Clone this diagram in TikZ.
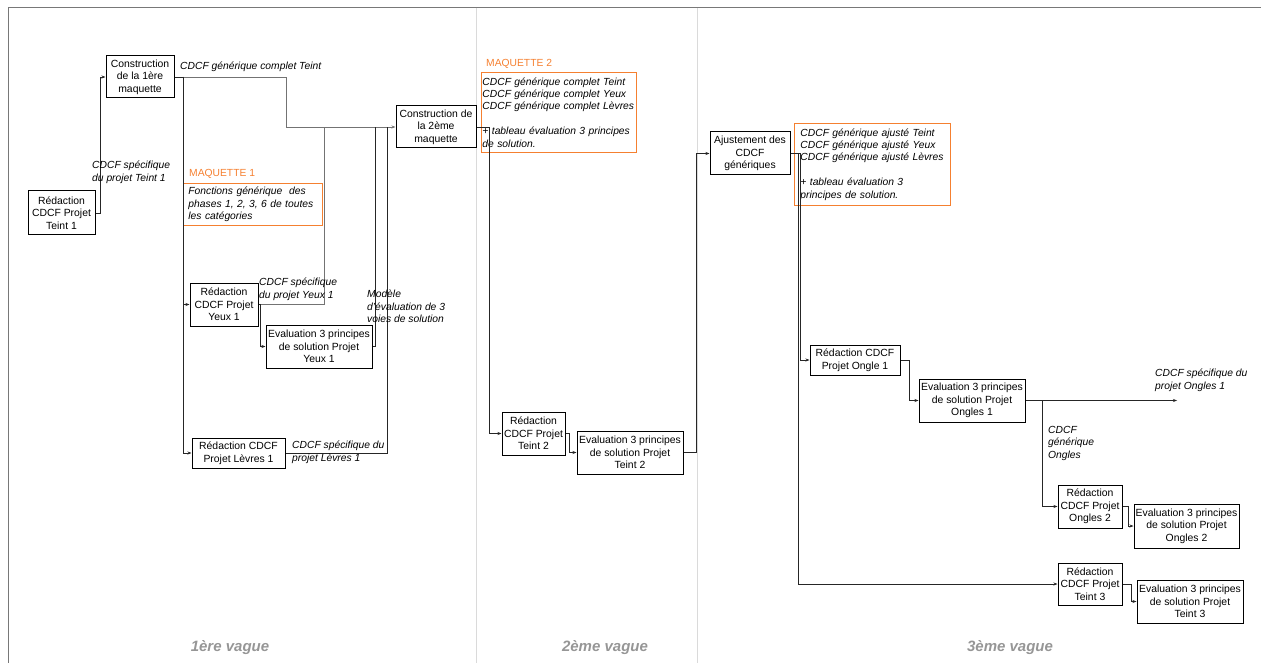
\documentclass[tikz,border=0pt]{standalone}
\usepackage{fontspec}
\setmainfont{Liberation Sans}
\usetikzlibrary{arrows.meta,positioning}
\definecolor{orng}{RGB}{245,128,48}
\definecolor{framegray}{RGB}{120,120,120}
\definecolor{sepgray}{RGB}{218,218,218}
\definecolor{wavegray}{RGB}{150,150,150}
\tikzset{
  >={Stealth[length=4pt,width=3pt]},
  box/.style={draw=black,line width=1pt,fill=white,align=center,inner sep=1pt,
    font=\fontsize{10.4}{12.5}\selectfont},
  note/.style={draw=orng,line width=0.9pt,anchor=north west,align=left,inner ysep=2pt,
    font=\fontsize{10.3}{12.4}\selectfont\itshape,text width=#1},
  tag/.style={anchor=north west,align=left,inner sep=0pt,
    font=\fontsize{10.3}{12.4}\selectfont\itshape},
  mqtitle/.style={anchor=north west,inner sep=0pt,text=orng,
    font=\fontsize{10.3}{12.4}\selectfont},
  flow/.style={->,draw=#1,line width=0.6pt},
  flow/.default=black!85,
  link/.style={draw=#1,line width=0.6pt},
  link/.default=black!85,
  wave/.style={text=wavegray,font=\fontsize{15}{18}\selectfont\bfseries\itshape},
}
\begin{document}
\begin{tikzpicture}[x=1pt,y=-1pt]
  \useasboundingbox (0,0) rectangle (1261,663);
  % frame and the three waves
  \draw[framegray,line width=1pt] (8,663) -- (8,8) -- (1261,8);
  \draw[sepgray,line width=1pt] (476,8) -- (476,663) (697,8) -- (697,663);
  \node[wave] (v1) at (230,648) {1ère vague};
  \node[wave] (v2) at (605,648) {2ème vague};
  \node[wave] (v3) at (1010,648) {3ème vague};

  % tasks
  \foreach \n/\x/\y/\w/\h/\t in {
    r1/61.5/213/67/44/{Rédaction\\CDCF Projet\\Teint 1},
    c1/140/77/68/42/{Construction\\de la 1ère\\maquette},
    c2/436/127/80/42/{Construction de\\la 2ème\\maquette},
    ry1/224/304.5/68/43/{Rédaction\\CDCF Projet\\Yeux 1},
    ey1/319/346.5/106/43/{Evaluation 3 principes\\de solution Projet\\Yeux 1},
    rl1/238.5/453/93/30/{Rédaction CDCF\\Projet Lèvres 1},
    rt2/533.5/433.5/63/43/{Rédaction\\CDCF Projet\\Teint 2},
    et2/630/452.5/106/43/{Evaluation 3 principes\\de solution Projet\\Teint 2},
    aj/750/153.5/80/43/{Ajustement des\\CDCF\\génériques},
    ro1/855/360/90/30/{Rédaction CDCF\\Projet Ongle 1},
    eo1/972/400.5/106/43/{Evaluation 3 principes\\de solution Projet\\Ongles 1},
    ro2/1090/506.5/64/43/{Rédaction\\CDCF Projet\\Ongles 2},
    eo2/1186.5/526/105/44/{Evaluation 3 principes\\de solution Projet\\Ongles 2},
    rt3/1090/584/64/42/{Rédaction\\CDCF Projet\\Teint 3},
    et3/1190/601.5/106/43/{Evaluation 3 principes\\de solution Projet\\Teint 3}}
  {
    \node[box,minimum width=\w,minimum height=\h] (\n) at (\x,\y) {\t};
  }

  % maquettes
  \node[mqtitle] (t1) at (189,169) {MAQUETTE 1};
  \node[note=129pt,inner xsep=5pt,minimum height=42] (m1) at (183,183)
    {Fonctions générique~ des\\phases 1, 2, 3, 6 de toutes\\les catégories};
  \node[mqtitle] (t2) at (486,59) {MAQUETTE 2};
  \node[note=153pt,inner xsep=1pt,minimum height=80] (m2) at (481,72)
    {CDCF générique complet Teint\\CDCF générique complet Yeux\\CDCF générique complet Lèvres\\[12.4pt]
     + tableau évaluation 3 principes\\de solution.};
  \node[note=144pt,inner xsep=6pt,minimum height=82] (m3) at (794,123)
    {CDCF générique ajusté Teint\\CDCF générique ajusté Yeux\\CDCF générique ajusté Lèvres\\[12.4pt]
     + tableau évaluation 3\\principes de solution.};

  % 1st wave
  \draw[flow] (r1.east) -- ++(5,0) |- (c1.west);
  \draw[flow=black!55] (c1.east) -| ([xshift=-109pt]c2.west) -- (c2.west);
  \draw[link] (c1.east) -- ++(9,0) coordinate (c1d);
  \draw[flow] (c1d) |- (ry1.west);
  \draw[flow] (c1d) |- (rl1.west);
  \draw[link=black!55] (ry1.east) -| ([xshift=-71pt]c2.west);
  \draw[flow] (ry1.east) -- ++(2,0) |- (ey1.west);
  \draw[link] (ey1.east) -| ([xshift=-20pt]c2.west);
  \draw[link] (rl1.east) -| ([xshift=-8pt]c2.west);
  \node[tag] (l1) at (92,161) {CDCF spécifique\\du projet Teint 1};
  \node[tag] (l2) at (180,62) {CDCF générique complet Teint};
  \node[tag] (l3) at (259,278) {CDCF spécifique\\du projet Yeux 1};
  \node[tag] (l4) at (367,290) {Modèle\\d'évaluation de 3\\voies de solution};
  \node[tag] (l5) at (292,441) {CDCF spécifique du\\projet Lèvres 1};

  % 2nd wave
  \draw[flow] (c2.east) -- ++(13,0) |- (rt2.west);
  \draw[flow] (rt2.east) -- ++(4,0) |- (et2.west);
  \draw[flow] (et2.east) -| ([xshift=-13pt]aj.west) -- (aj.west);

  % 3rd wave
  \draw[flow] (aj.east) -- ++(8,0) |- (rt3.west);
  \draw[flow] (aj.east) -- ++(10,0) |- (ro1.west);
  \draw[flow] (ro1.east) -- ++(9,0) |- (eo1.west);
  \coordinate (o1) at (1177,400.5);
  \draw[flow] (eo1.east) -- (o1);
  \draw[flow] ([xshift=17pt]eo1.east) |- (ro2.west);
  \draw[flow] (ro2.east) -- ++(6,0) |- (eo2.west);
  \draw[flow] (rt3.east) -- ++(9,0) |- (et3.west);
  \node[tag] (l6) at (1155,369) {CDCF spécifique du\\projet Ongles 1};
  \node[tag] (l7) at (1048,426) {CDCF\\générique\\Ongles};
\end{tikzpicture}
\end{document}
